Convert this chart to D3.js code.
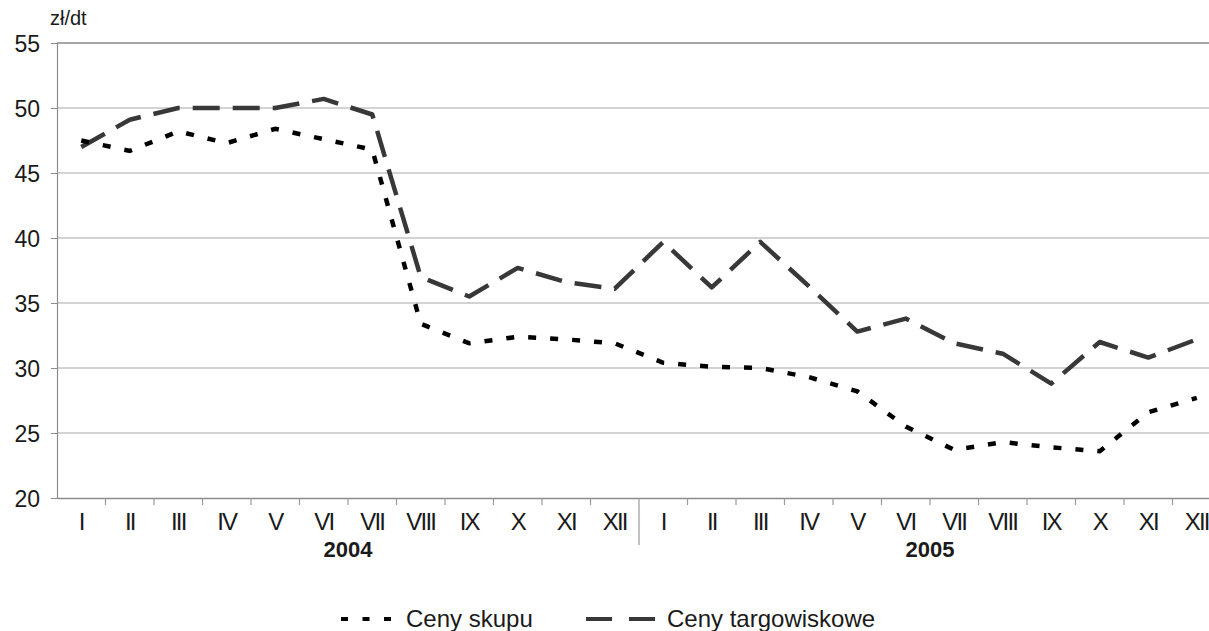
<!DOCTYPE html>
<html>
<head>
<meta charset="utf-8">
<script src="https://cdn.jsdelivr.net/npm/d3@7"></script>
<style>
  html, body { margin: 0; padding: 0; background: #fff; }
  svg { display: block; font-family: "Liberation Sans", Arial, sans-serif; }
</style>
</head>
<body>
<svg id="chart" width="1209" height="631"></svg>
<script>
const months = ["I","II","III","IV","V","VI","VII","VIII","IX","X","XI","XII"];
const years = ["2004", "2005"];
const cenySkupu = [47.5, 46.7, 48.2, 47.3, 48.4, 47.6, 46.8, 33.4, 31.9, 32.4, 32.2, 31.9,
                   30.4, 30.1, 30.0, 29.3, 28.2, 25.5, 23.7, 24.3, 23.9, 23.6, 26.6, 27.7];
const cenyTargowiskowe = [47.0, 49.1, 50.0, 50.0, 50.0, 50.7, 49.5, 37.0, 35.5, 37.7, 36.6, 36.1,
                          39.7, 36.2, 39.7, 36.3, 32.8, 33.8, 31.9, 31.1, 28.8, 32.0, 30.8, 32.2];
const yTicks = [20, 25, 30, 35, 40, 45, 50, 55];
const unitLabel = "zł/dt";
const seriesNames = ["Ceny skupu", "Ceny targowiskowe"];

(function () {
const categories = [];
years.forEach(y => months.forEach(m => categories.push(y + "-" + m)));

const svg = d3.select("#chart");
const mLeft = 57, mTop = 43, mBottom = 498, mRight = 57 + 24 * 48.5;
const font = "Liberation Sans, Arial, sans-serif";

const x = d3.scaleBand().domain(categories).range([mLeft, mRight]).padding(0);
const y = d3.scaleLinear().domain([20, 55]).range([mBottom, mTop]);

// gridlines
svg.append("g").selectAll("line").data(yTicks.filter(d => d > 20)).join("line")
  .attr("x1", mLeft).attr("x2", 1209)
  .attr("y1", d => y(d)).attr("y2", d => y(d))
  .attr("stroke", d => d === 55 ? "#a6a6a6" : "#c4c4c4")
  .attr("stroke-width", d => d === 55 ? 2 : 1.5);

// y axis
const yAxis = svg.append("g").attr("transform", `translate(${mLeft},0)`)
  .call(d3.axisLeft(y).tickValues(yTicks).tickSize(6).tickPadding(11));
yAxis.select(".domain").attr("stroke", "#8c8c8c").attr("stroke-width", 1.2);
yAxis.selectAll(".tick line").attr("stroke", "#8c8c8c");
yAxis.selectAll(".tick text").attr("font-size", 23).attr("fill", "#1a1a1a")
  .attr("font-family", font).attr("dy", "0.36em");

// x axis
const xAxis = svg.append("g").attr("transform", `translate(0,${mBottom})`)
  .call(d3.axisBottom(x).tickSize(0).tickPadding(15).tickFormat(d => d.split("-")[1]));
xAxis.select(".domain").attr("stroke", "#8c8c8c").attr("stroke-width", 1.5);
xAxis.selectAll(".tick text").attr("font-size", 24).attr("fill", "#1a1a1a")
  .attr("font-family", font).attr("letter-spacing", -1.8);

// category boundary ticks
const boundaries = categories.map(c => x(c)).slice(1);
svg.append("g").selectAll("line").data(boundaries).join("line")
  .attr("x1", d => d).attr("x2", d => d)
  .attr("y1", mBottom).attr("y2", (d, i) => i === 11 ? 545 : mBottom + 7)
  .attr("stroke", "#9a9a9a").attr("stroke-width", 1.2);

// year labels
svg.append("g").selectAll("text").data(years).join("text")
  .attr("x", d => (x(d + "-I") + x(d + "-XII") + x.bandwidth()) / 2)
  .attr("y", 557).attr("text-anchor", "middle")
  .attr("font-size", 22).attr("font-weight", "bold").attr("fill", "#1a1a1a")
  .text(d => d);

// unit label
svg.append("text").attr("x", 50).attr("y", 25).attr("font-size", 20).attr("fill", "#1a1a1a").text(unitLabel);

// lines
const line = d3.line().x((d, i) => x(categories[i]) + x.bandwidth() / 2).y(d => y(d));
svg.append("path").datum(cenyTargowiskowe).attr("d", line)
  .attr("fill", "none").attr("stroke", "#383838").attr("stroke-width", 4.5)
  .attr("stroke-dasharray", "27 13").attr("stroke-linejoin", "round");
svg.append("path").datum(cenySkupu).attr("d", line)
  .attr("fill", "none").attr("stroke", "#000").attr("stroke-width", 4.5)
  .attr("stroke-dasharray", "8 14");

// legend
const leg = svg.append("g");
leg.append("line").attr("x1", 341).attr("x2", 391).attr("y1", 619).attr("y2", 619)
  .attr("stroke", "#000").attr("stroke-width", 4).attr("stroke-dasharray", "7 14.5");
leg.append("text").attr("x", 406).attr("y", 627).attr("font-size", 24).attr("fill", "#1a1a1a").text(seriesNames[0]);
leg.append("line").attr("x1", 586).attr("x2", 656).attr("y1", 619).attr("y2", 619)
  .attr("stroke", "#383838").attr("stroke-width", 4).attr("stroke-dasharray", "26 17");
leg.append("text").attr("x", 667).attr("y", 627).attr("font-size", 24).attr("fill", "#1a1a1a").text(seriesNames[1]);
})();
</script>
</body>
</html>
